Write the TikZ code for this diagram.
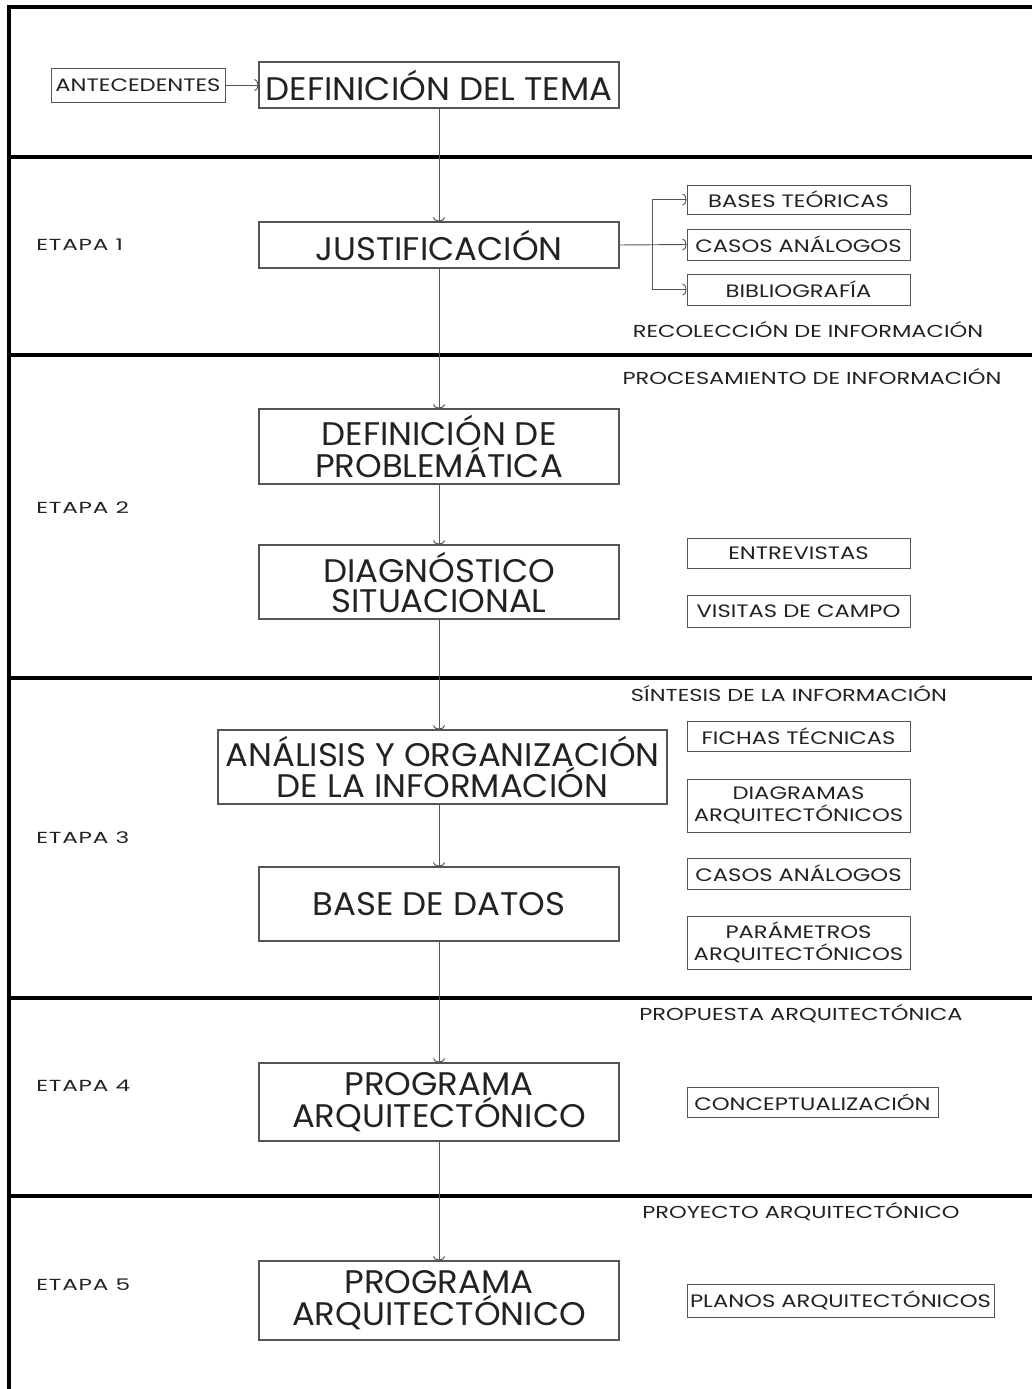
\documentclass[tikz,border=0pt]{standalone}
\usepackage{fontspec}
\setmainfont{Poppins}
\newfontfamily\bigf[FakeStretch=1.04]{Poppins}
\newfontfamily\smallf[FakeStretch=1.26]{Poppins}
\newfontfamily\secf[FakeStretch=1.3]{Poppins}
\newfontfamily\etapaf[FakeStretch=1.45,LetterSpace=5]{Poppins}
\usetikzlibrary{arrows.meta}
\definecolor{boxc}{HTML}{555555}
\definecolor{txt}{HTML}{222222}
\begin{document}
\begin{tikzpicture}[x=0.75pt,y=-0.75pt,
  bigbox/.style={draw=boxc,line width=0.8pt,text=txt,align=center,inner sep=0pt,font=\bigf\fontsize{24.5}{22.5}\selectfont},
  smallbox/.style={draw=boxc,line width=0.7pt,text=txt,align=center,inner sep=0pt,font=\smallf\fontsize{13.5}{16.5}\selectfont},
  stagelbl/.style={text=txt,anchor=west,inner sep=0pt,font=\etapaf\fontsize{12}{13}\selectfont},
  seclbl/.style={text=txt,inner sep=0pt,font=\secf\fontsize{13}{15}\selectfont},
  conn/.style={draw=boxc,line width=0.7pt,-{Arc Barb[length=3pt,width=9pt]}},
  frameline/.style={draw=black,line width=2.3pt}]
\useasboundingbox (0,0) rectangle (1032,1389);
% frame
\draw[frameline] (9,1389) -- (9,7) -- (1032,7);
\foreach \yy in {157,355,678,998,1196} \draw[frameline] (9,\yy) -- (1032,\yy);
% stage labels
\node[stagelbl] (e1) at (36,245) {ETAPA 1};
\node[stagelbl] (e2) at (36,508) {ETAPA 2};
\node[stagelbl] (e3) at (36,838) {ETAPA 3};
\node[stagelbl] (e4) at (36,1086) {ETAPA 4};
\node[stagelbl] (e5) at (36,1285) {ETAPA 5};
% section labels
\node[seclbl] (s1) at (808,330) {RECOLECCIÓN DE INFORMACIÓN};
\node[seclbl] (s2) at (812,377) {PROCESAMIENTO DE INFORMACIÓN};
\node[seclbl] (s3) at (789,694) {SÍNTESIS DE LA INFORMACIÓN};
\node[seclbl] (s4) at (801,1014) {PROPUESTA ARQUITECTÓNICA};
\node[seclbl] (s5) at (801,1212) {PROYECTO ARQUITECTÓNICO};
% main boxes
\node[smallbox,minimum width=174*0.75pt,minimum height=34*0.75pt] (ant) at (138,85) {ANTECEDENTES};
\node[bigbox,minimum width=360*0.75pt,minimum height=46*0.75pt] (tema) at (439,85) {DEFINICIÓN DEL TEMA};
\node[bigbox,minimum width=360*0.75pt,minimum height=46*0.75pt] (just) at (439,245) {JUSTIFICACIÓN};
\node[bigbox,minimum width=360*0.75pt,minimum height=75*0.75pt] (prob) at (439,446.5) {DEFINICIÓN DE\\PROBLEMÁTICA};
\node[bigbox,minimum width=360*0.75pt,minimum height=74*0.75pt] (diag) at (439,582) {DIAGNÓSTICO\\SITUACIONAL};
\node[bigbox,minimum width=449*0.75pt,minimum height=74*0.75pt] (anal) at (442.5,767) {ANÁLISIS Y ORGANIZACIÓN\\DE LA INFORMACIÓN};
\node[bigbox,minimum width=360*0.75pt,minimum height=74*0.75pt] (base) at (439,904) {BASE DE DATOS};
\node[bigbox,minimum width=360*0.75pt,minimum height=78*0.75pt] (prog1) at (439,1102) {PROGRAMA\\ARQUITECTÓNICO};
\node[bigbox,minimum width=360*0.75pt,minimum height=79*0.75pt] (prog2) at (439,1300.5) {PROGRAMA\\ARQUITECTÓNICO};
% side boxes
\node[smallbox,minimum width=223*0.75pt,minimum height=29*0.75pt] (bases) at (798.5,199.5) {BASES TEÓRICAS};
\node[smallbox,minimum width=223*0.75pt,minimum height=31*0.75pt] (casos1) at (798.5,244.5) {CASOS ANÁLOGOS};
\node[smallbox,minimum width=223*0.75pt,minimum height=31*0.75pt] (biblio) at (798.5,289.5) {BIBLIOGRAFÍA};
\node[smallbox,minimum width=223*0.75pt,minimum height=30*0.75pt] (entre) at (798.5,553) {ENTREVISTAS};
\node[smallbox,minimum width=223*0.75pt,minimum height=32*0.75pt] (visitas) at (798.5,611) {VISITAS DE CAMPO};
\node[smallbox,minimum width=223*0.75pt,minimum height=30*0.75pt] (fichas) at (798.5,736) {FICHAS TÉCNICAS};
\node[smallbox,minimum width=223*0.75pt,minimum height=53*0.75pt] (diagr) at (798.5,805.5) {DIAGRAMAS\\ARQUITECTÓNICOS};
\node[smallbox,minimum width=223*0.75pt,minimum height=31*0.75pt] (casos2) at (798.5,873.5) {CASOS ANÁLOGOS};
\node[smallbox,minimum width=223*0.75pt,minimum height=53*0.75pt] (param) at (798.5,942.5) {PARÁMETROS\\ARQUITECTÓNICOS};
\node[smallbox,minimum width=251*0.75pt,minimum height=30*0.75pt] (concep) at (812.5,1102) {CONCEPTUALIZACIÓN};
\node[smallbox,minimum width=307*0.75pt,minimum height=33*0.75pt] (planos) at (840.5,1300.5) {PLANOS ARQUITECTÓNICOS};
% connectors
\draw[conn] (ant) -- (tema);
\draw[conn] (tema) -- (just);
\draw[conn] (just) -- (prob);
\draw[conn] (prob) -- (diag);
\draw[conn] (diag.south) -- (diag.south |- anal.north);
\draw[conn] (base.north |- anal.south) -- (base.north);
\draw[conn] (base) -- (prog1);
\draw[conn] (prog1) -- (prog2);
\coordinate (br) at (652,245);
\draw[conn] (just.east) -- (casos1.west);
\draw[conn] (br) |- (bases.west);
\draw[conn] (br) |- (biblio.west);
\end{tikzpicture}
\end{document}
